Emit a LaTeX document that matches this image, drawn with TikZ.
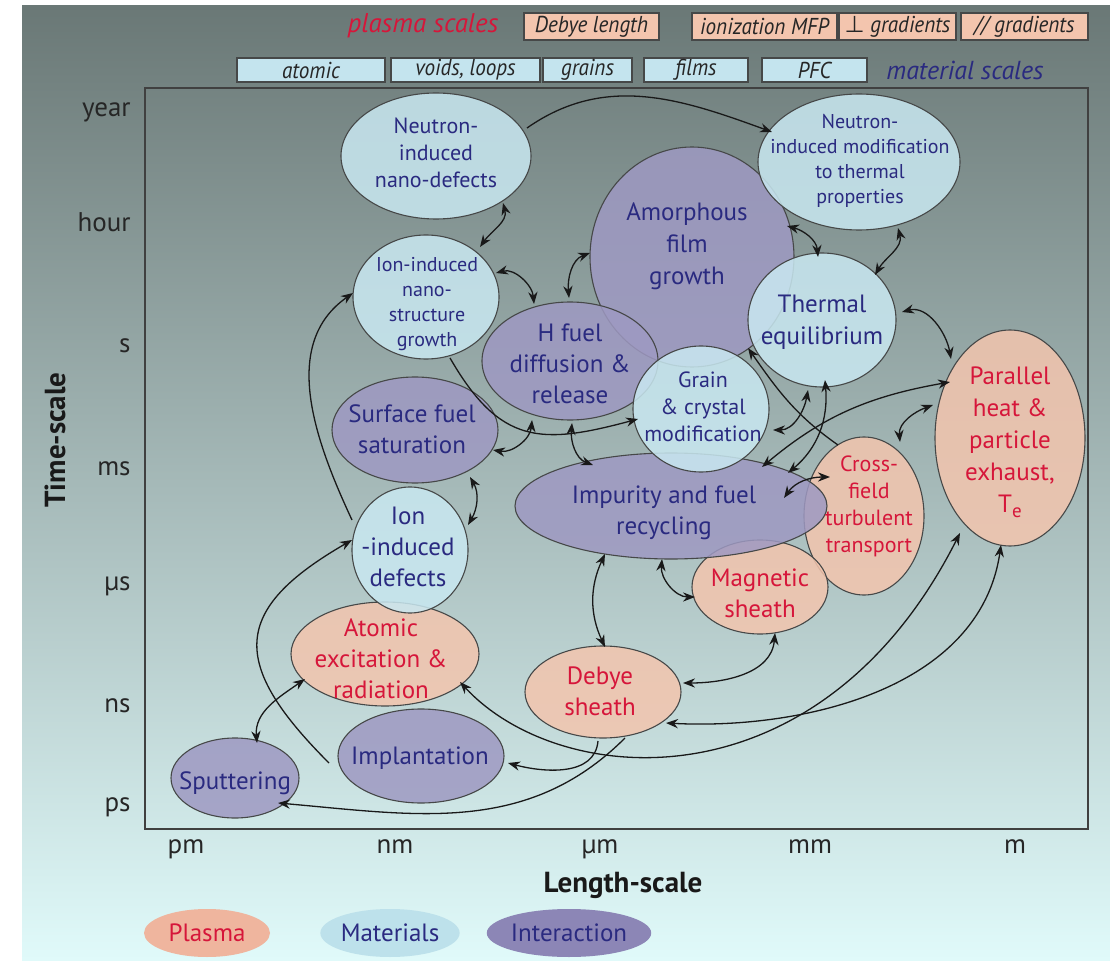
\documentclass[tikz,border=0pt]{standalone}
\usepackage{fontspec}
\setmainfont{PT Sans}
\newfontfamily\symf{DejaVu Sans}
\newfontfamily\condf[FakeStretch=0.92]{PT Sans}
\usetikzlibrary{shapes.geometric,arrows.meta,calc}
\definecolor{bgtop}{RGB}{106,120,118}
\definecolor{bgbot}{RGB}{224,250,250}
\definecolor{matfill}{RGB}{201,232,241}
\definecolor{intfill}{RGB}{158,153,194}
\definecolor{plafill}{RGB}{243,197,174}
\definecolor{boxblue}{RGB}{196,228,238}
\definecolor{navy}{RGB}{42,42,128}
\definecolor{plred}{RGB}{214,22,58}
\definecolor{edge}{RGB}{70,72,72}
\definecolor{legP}{RGB}{239,181,158}
\definecolor{legM}{RGB}{189,225,235}
\definecolor{legI}{RGB}{140,134,182}
\begin{document}
\begin{tikzpicture}[x=0.5pt,y=-0.5pt,
  ell/.style={ellipse, draw=edge, line width=0.55pt, inner sep=0pt, fill opacity=0.85},
  mat/.style={ell, fill=matfill},
  int/.style={ell, fill=intfill},
  pla/.style={ell, fill=plafill},
  tm/.style={align=center, inner sep=0pt, text=navy},
  tp/.style={align=center, inner sep=0pt, text=plred},
  fL/.style={font=\fontsize{12.5}{15.5}\selectfont},
  fLL/.style={font=\fontsize{12.5}{16}\selectfont},
  fM/.style={font=\fontsize{11}{13.5}\selectfont},
  fS/.style={font=\fontsize{10}{12.5}\selectfont},
  tick/.style={font=\fontsize{13.5}{15}\selectfont, text=black!85, inner sep=0pt},
  axt/.style={font=\bfseries\fontsize{14.5}{16}\selectfont, text=black!90, inner sep=0pt},
  sbox/.style={draw=edge, line width=0.8pt, inner sep=0pt, font=\condf\itshape\fontsize{11.5}{12}\selectfont, text=black!85},
  pbox/.style={sbox, fill=plafill, minimum height=13.5pt},
  mbox/.style={sbox, fill=boxblue, minimum height=12.25pt},
  legE/.style={ellipse, inner sep=0pt, minimum width=63pt, minimum height=24pt, font=\fontsize{12.5}{14}\selectfont},
  conn/.style={line width=0.65pt, draw=black!90},
  one/.style={conn, -{Stealth[length=6pt,width=4.6pt]}},
  dbl/.style={conn, {Stealth[length=6pt,width=4.6pt]}-{Stealth[length=6pt,width=4.6pt]}},
]
\useasboundingbox (0,0) rectangle (1110,963);
\shade[top color=bgtop, bottom color=bgbot] (22,6) rectangle (1110,960);

% top scale boxes
\node[text=plred, font=\itshape\fontsize{13.5}{15}\selectfont, inner sep=0pt] (plsc) at (423,26) {plasma scales};
\node[pbox, minimum width=67.5pt] (bdl) at (591.5,26.5) {Debye length};
\node[pbox, minimum width=72.5pt] (bim) at (764.5,26.5) {ionization MFP};
\node[pbox, minimum width=58.5pt] (bpg) at (897.5,26.5) {{\symf\upshape ⊥} gradients};
\node[pbox, minimum width=63.5pt] (bpl) at (1024.5,26.5) {// gradients};
\node[mbox, minimum width=74pt] (bat) at (311,70) {atomic};
\node[mbox, minimum width=74.5pt] (bvl) at (465.5,70) {voids, loops};
\node[mbox, minimum width=44.5pt] (bgr) at (587.5,70) {grains};
\node[mbox, minimum width=52pt] (bfi) at (696,70) {films};
\node[mbox, minimum width=52.5pt] (bpf) at (814.5,70) {PFC};
\node[text=navy, font=\itshape\fontsize{13}{15}\selectfont, inner sep=0pt] (mtsc) at (965,70) {material scales};

% frame
\draw[line width=1.2pt, draw=black!75] (145,88) rectangle (1088,829);

% axis ticks
\node[tick, anchor=base east] (ty) at (131,117) {year};
\node[tick, anchor=base east] (th) at (131,232) {hour};
\node[tick, anchor=base east] (ts) at (131,352) {s};
\node[tick, anchor=base east] (tms) at (131,475) {ms};
\node[tick, anchor=base east] (tus) at (131,590) {µs};
\node[tick, anchor=base east] (tns) at (131,712) {ns};
\node[tick, anchor=base east] (tps) at (131,811) {ps};
\node[tick, anchor=base] (xpm) at (186,853) {pm};
\node[tick, anchor=base] (xnm) at (395,853) {nm};
\node[tick, anchor=base] (xum) at (600,853) {µm};
\node[tick, anchor=base] (xmm) at (810,853) {mm};
\node[tick, anchor=base] (xm) at (1015,853) {m};
\node[axt, anchor=base] (xlab) at (623,892) {Length-scale};
\node[axt, anchor=base, rotate=90] (ylab) at (65,440) {Time-scale};

% legend
\node[legE, fill=legP, text=plred] (lgp) at (207,933) {Plasma};
\node[legE, fill=legM, text=navy] (lgm) at (390,933) {Materials};
\node[legE, fill=legI, text=navy] (lgi) at (569,933) {Interaction};

% ellipses
\node[pla, minimum width=60pt, minimum height=79pt] (cft) at (864,516) {};
\node[pla, minimum width=68pt, minimum height=47pt] (mag) at (760,587) {};
\node[int, minimum width=156pt, minimum height=53pt] (imp) at (671,506) {};
\node[int, minimum width=102pt, minimum height=110pt] (amo) at (692,257) {};
\node[int, minimum width=88pt, minimum height=59pt] (hfd) at (570,361) {};
\node[mat, minimum width=68pt, minimum height=63pt] (gra) at (701,409) {};
\node[mat, minimum width=74pt, minimum height=67pt] (the) at (822,320) {};
\node[mat, minimum width=101pt, minimum height=68pt] (nmt) at (859,162) {};
\node[mat, minimum width=95pt, minimum height=63pt] (nnd) at (436,156) {};
\node[mat, minimum width=73pt, minimum height=62pt] (ins) at (426,297) {};
\node[int, minimum width=83pt, minimum height=53pt] (sfs) at (415,430) {};
\node[pla, minimum width=94pt, minimum height=52pt] (ato) at (385,654) {};
\node[mat, minimum width=58pt, minimum height=63pt] (iid) at (410,550) {};
\node[int, minimum width=83pt, minimum height=47pt] (imt) at (421,756) {};
\node[int, minimum width=64pt, minimum height=40pt] (spu) at (235,778) {};
\node[pla, minimum width=78pt, minimum height=46pt] (deb) at (603,692) {};
\node[pla, minimum width=75pt, minimum height=108pt] (par) at (1010,438) {};

% texts
\node[tm, fM] (nnd-t) at (436,153) {Neutron-\\induced\\nano-defects};
\node[tm, fS] (nmt-t) at (860,161) {Neutron-\\induced modification\\to thermal\\properties};
\node[tm, fLL] (amo-t) at (687,246) {Amorphous\\film\\growth};
\node[tm, fS] (ins-t) at (427,304) {Ion-induced\\nano-\\structure\\growth};
\node[tm, fL] (hfd-t) at (570,364) {H fuel\\diffusion \&\\release};
\node[tm, fLL] (the-t) at (822,322) {Thermal\\equilibrium};
\node[tm, fM] (gra-t) at (703,407) {Grain\\\& crystal\\modification};
\node[tm, fL] (sfs-t) at (412,429) {Surface fuel\\saturation};
\node[tp, fLL] (par-t) at (1010,442) {Parallel\\heat \&\\particle\\exhaust,\\T\raisebox{-2.5pt}{\fontsize{9.5}{10}\selectfont e}};
\node[tp, fM] (cft-t) at (869,506) {Cross-\\field\\turbulent\\transport};
\node[tm, fL] (imp-t) at (664,513) {Impurity and fuel\\recycling};
\node[tp, fL] (mag-t) at (760,593) {Magnetic\\sheath};
\node[tp, fL] (deb-t) at (600,691) {Debye\\sheath};
\node[tm, fL] (iid-t) at (408,547) {Ion\\-induced\\defects};
\node[tp, fL] (ato-t) at (381,659) {Atomic\\excitation \&\\radiation};
\node[tm, fL] (imt-t) at (420,758) {Implantation};
\node[tm, fL] (spu-t) at (235,783) {Sputtering};

% connectors
\draw[one] ($(nnd)+(91,-28)$) to[out=35,in=160] ($(nmt)+(-87,-30)$);
\draw[dbl] ($(nnd)+(67,47)$) to[out=-75,in=55] ($(ins)+(54,-50)$);
\draw[dbl] ($(ins)+(70,-24)$) to[out=15,in=95] ($(hfd)+(-36,-57)$);
\draw[dbl] ($(hfd)+(-1,-63)$) to[out=95,in=200] ($(amo)+(-102,-4)$);
\draw[dbl] ($(amo)+(95,-31)$) to[out=-15,in=95] ($(the)+(-4,-63)$);
\draw[dbl] ($(nmt)+(39,66)$) to[out=-75,in=60] ($(the)+(53,-45)$);
\draw[dbl] ($(the)+(80,-8)$) to[out=15,in=100] ($(par)+(-59,-79)$);
\draw[one] ($(ins)+(24,61)$) to[out=-60,in=195,looseness=1.3] ($(gra)+(-63,10)$);
\draw[dbl] ($(hfd)+(-38,59)$) to[out=-95,in=-10] ($(sfs)+(78,20)$);
\draw[dbl] ($(hfd)+(2,62)$) to[out=-95,in=160] ($(imp)+(-78,-41)$);
\draw[dbl] ($(sfs)+(55,47)$) to[out=-60,in=60] ($(iid)+(58,-25)$);
\draw[one] ($(imt)+(-92,7)$) to[out=135,in=210,looseness=1.6] ($(iid)+(-58,-10)$);
\draw[one] ($(iid)+(-58,-30)$) to[out=115,in=215] ($(ins)+(-73,-4)$);
\draw[dbl] ($(spu)+(22,-35)$) to[out=95,in=215] ($(ato)+(-80,25)$);
\draw[one] ($(deb)+(-5,49)$) to[out=-95,in=-15] ($(imt)+(87,7)$);
\draw[one] ($(deb)+(22,46)$) to[out=-135,in=-5] ($(spu)+(43,25)$);
\draw[dbl] ($(ato)+(75,28)$) .. controls (560,790) and (820,810) .. ($(par)+(-50,95)$);
\draw[dbl] ($(deb)+(63,31)$) .. controls (800,730) and (980,690) .. ($(par)+(-9,107)$);
\draw[dbl] ($(deb)+(80,-9)$) to[out=0,in=-95] ($(mag)+(15,46)$);
\draw[dbl] ($(imp)+(-66,48)$) to[out=-115,in=115] ($(deb)+(2,-45)$);
\draw[dbl] ($(imp)+(-9,53)$) to[out=-95,in=180] ($(mag)+(-65,10)$);
\draw[dbl] ($(imp)+(113,-8)$) to[out=55,in=180] ($(cft)+(-34,-39)$);
\draw[dbl] ($(gra)+(72,21)$) to[out=0,in=-100] ($(the)+(-14,70)$);
\draw[dbl] ($(imp)+(91,-39)$) to[out=40,in=190] ($(par)+(-60,-56)$);
\draw[dbl] ($(imp)+(117,-33)$) to[out=40,in=-85] ($(the)+(3,60)$);
\draw[one] ($(cft)+(-26,-71)$) to[out=145,in=-55] ($(amo)+(56,91)$);
\draw[dbl] ($(par)+(-77,-33)$) to[out=200,in=95] ($(cft)+(36,-74)$);
\end{tikzpicture}
\end{document}
